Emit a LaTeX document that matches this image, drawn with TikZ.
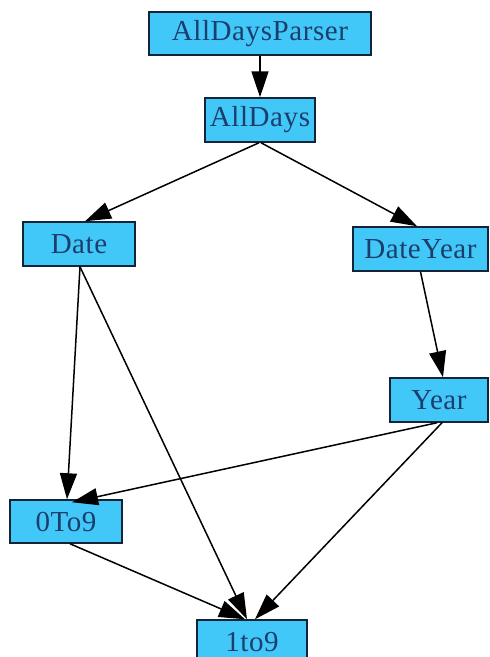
\documentclass[tikz,border=0pt]{standalone}
\usepackage{fontspec}
\setmainfont[LetterSpace=2]{Liberation Serif}
\usetikzlibrary{arrows.meta}
\definecolor{boxfill}{RGB}{66,200,248}
\definecolor{boxline}{RGB}{20,36,56}
\definecolor{boxtext}{RGB}{28,62,108}
\tikzset{
  cls/.style={draw=boxline, line width=1.5pt, fill=boxfill, text=boxtext,
    inner sep=0pt, font=\fontsize{29}{32}\selectfont},
  dep/.style={draw=black, line width=1.5pt,
    -{Triangle[length=26pt,width=17pt]}},
}
\begin{document}
\begin{tikzpicture}[x=1pt,y=-1pt]
  \clip (0,0) rectangle (490,657);
  \useasboundingbox (0,0) rectangle (490,657);
  \fill[white] (0,0) rectangle (490,657);

  % class nodes
  \node[cls, minimum width=222pt, minimum height=43pt] (parser)   at (260,33.5)  {AllDaysParser};
  \node[cls, minimum width=110pt, minimum height=44pt] (alldays)  at (260,120)   {AllDays};
  \node[cls, minimum width=112pt, minimum height=44pt] (date)     at (79,244)    {Date};
  \node[cls, minimum width=135pt, minimum height=44pt] (dateyear) at (420.5,249) {DateYear};
  \node[cls, minimum width=98pt,  minimum height=44pt] (year)     at (439,400)   {Year};
  \node[cls, minimum width=112pt, minimum height=43pt] (zero)     at (66,521.5)  {0To9};
  \node[cls, minimum width=110pt, minimum height=44pt] (one)      at (252,642)   {1to9};

  % dependencies
  \draw[dep] (parser.south) -- (alldays.north);
  \draw[dep] ([xshift=-1pt]alldays.south) -- ([xshift=6pt]date.north);
  \draw[dep] ([xshift=1pt]alldays.south) -- ([xshift=-3.5pt]dateyear.north);
  \draw[dep] ([xshift=1pt]date.south) -- ([xshift=1pt]zero.north);
  \draw[dep] ([xshift=1pt]date.south) -- ([xshift=-5pt]one.north);
  \draw[dep] (dateyear.south) -- ([xshift=4pt]year.north);
  \draw[dep] ([xshift=-2pt]year.south) -- ([xshift=6pt,yshift=-3pt]zero.north);
  \draw[dep] ([xshift=3pt]year.south) -- ([xshift=3pt]one.north);
  \draw[dep] ([xshift=4pt]zero.south) -- ([xshift=-7pt]one.north);
\end{tikzpicture}
\end{document}
